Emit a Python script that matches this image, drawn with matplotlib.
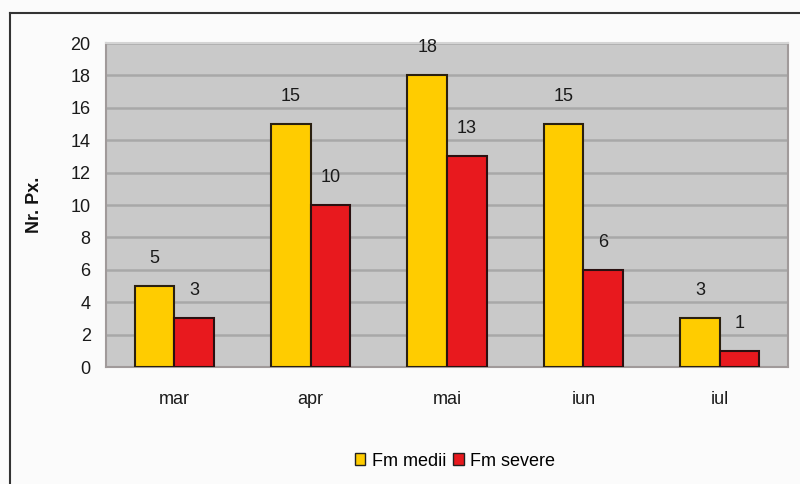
import matplotlib
matplotlib.use("Agg")
import matplotlib.pyplot as plt
from matplotlib.lines import Line2D
from matplotlib.patches import Patch
import numpy as np

categories = ["mar", "apr", "mai", "iun", "iul"]
medii = [5, 15, 18, 15, 3]
severe = [3, 10, 13, 6, 1]
series_names = ["Fm medii", "Fm severe"]
yticks = list(range(0, 21, 2))

plt.rcParams['font.family'] = ['Liberation Sans', 'DejaVu Sans']

W, H = 800, 484
fig = plt.figure(figsize=(W/100, H/100), dpi=100)
fig.patch.set_facecolor("#fbfbfb")

# plot area in pixels
L, R, T, B = 106, 788, 43, 367
ax = fig.add_axes([L/W, 1 - B/H, (R-L)/W, (B-T)/H])
ax.set_facecolor("#c9c9c9")

x = np.arange(len(categories))
bw = 0.29
c1, c2 = "#ffcc00", "#e8191e"
b1 = ax.bar(x - bw/2, medii, bw, color=c1, edgecolor="#2a2010", linewidth=1.5, zorder=3)
b2 = ax.bar(x + bw/2, severe, bw, color=c2, edgecolor="#2a1010", linewidth=1.5, zorder=3)

fs = 13
tc = "#1a1a1a"
for bars, vals in ((b1, medii), (b2, severe)):
    for rect, v in zip(bars, vals):
        ax.annotate(str(v), (rect.get_x() + rect.get_width()/2, v),
                    xytext=(0, 20), textcoords="offset points",
                    ha="center", va="center", fontsize=fs, color=tc)

ax.set_xlim(-0.5, len(categories) - 0.5)
ax.set_ylim(0, 20)
ax.set_yticks(yticks)
ax.set_yticklabels([str(t) for t in yticks], fontsize=fs, color=tc)
ax.set_xticks(x)
ax.set_xticklabels(categories, fontsize=fs, color=tc)
ax.tick_params(axis="y", length=0, pad=11)
ax.tick_params(axis="x", length=0, pad=17)
ax.yaxis.grid(True, color="#a8a8a8", linewidth=1.8, zorder=0)
ax.set_axisbelow(True)
for s in ("left", "right", "bottom", "top"):
    ax.spines[s].set_color("#a09a9a")
    ax.spines[s].set_linewidth(1.5)
ax.spines["top"].set_color("#d4d4d4")

ax.set_ylabel("Nr. Px.", fontsize=fs, fontweight="bold", labelpad=20, color="#111111")

handles = [Patch(facecolor=c1, edgecolor="#222222", label=series_names[0]),
           Patch(facecolor=c2, edgecolor="#222222", label=series_names[1])]
fig.legend(handles=handles, loc="center", bbox_to_anchor=(455/W, 1 - 461/H),
           ncol=2, frameon=False, fontsize=fs, handlelength=0.6, handleheight=0.6,
           handletextpad=0.35, columnspacing=0.4)

# outer frame (top and left edges visible)
fig.add_artist(Line2D([10/W, 1.0], [1 - 13/H, 1 - 13/H], transform=fig.transFigure,
                      color="#333333", linewidth=1.5))
fig.add_artist(Line2D([10/W, 10/W], [0, 1 - 13/H], transform=fig.transFigure,
                      color="#333333", linewidth=1.5))

fig.savefig("out.png", dpi=100, facecolor=fig.get_facecolor())
